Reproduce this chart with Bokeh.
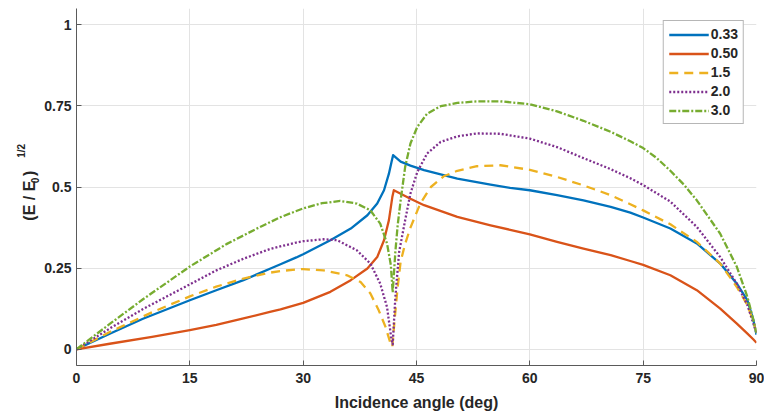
import math
from bokeh.plotting import figure
from bokeh.layouts import row, column
from bokeh.models import FixedTicker, Range1d, Legend, LegendItem
from bokeh.core.properties import value
from bokeh.embed import file_html
from bokeh.resources import INLINE

# ---------------- data ----------------
x_033 = [0, 4.4, 8.8, 15, 18.5, 22.1, 25.6, 27, 29.1, 30, 33.6, 36.3, 38.5, 39.8, 40.7,
         41.35, 41.7, 41.9, 42.9, 44.2, 46.0, 50.4, 54.8, 57.4, 60, 63.6, 67.1, 70.7,
         73.3, 75, 78.6, 82.1, 85.2, 87.4, 88.8, 89.6, 90]
y_033 = [0, 0.048, 0.094, 0.151, 0.182, 0.213, 0.248, 0.262, 0.283, 0.293, 0.336, 0.372,
         0.413, 0.449, 0.49, 0.541, 0.578, 0.598, 0.578, 0.566, 0.552, 0.526, 0.507, 0.497,
         0.49, 0.475, 0.459, 0.439, 0.421, 0.406, 0.372, 0.326, 0.264, 0.202, 0.151,
         0.089, 0.045]

x_050 = [0, 4.4, 10, 15, 18.5, 22.1, 25.6, 27, 30, 33.6, 36.3, 38.5, 39.8, 40.7, 41.35,
         41.8, 42.0, 44.2, 46.0, 50.4, 54.8, 57.4, 60, 63.6, 67.1, 70.7, 73.3, 75, 78.6,
         82.1, 85.2, 87.4, 88.8, 89.6, 90]
y_050 = [0, 0.017, 0.038, 0.059, 0.075, 0.095, 0.115, 0.123, 0.143, 0.177, 0.213, 0.249,
         0.284, 0.336, 0.398, 0.469, 0.49, 0.464, 0.444, 0.408, 0.382, 0.368, 0.354,
         0.331, 0.31, 0.29, 0.272, 0.26, 0.228, 0.182, 0.125, 0.079, 0.048, 0.03, 0.02]

x_15 = [0, 4.4, 10, 15, 18.5, 22.1, 25.6, 27, 29.1, 30, 32.7, 35.8, 37.6, 38.9, 40.0,
        40.9, 41.6, 41.8, 42.1, 42.5, 42.9, 43.5, 44.2, 45.5, 46.9, 48.6, 50.4, 53,
        56.1, 60, 63.6, 67.1, 70.7, 73.3, 75, 78.6, 82.1, 85.2, 87.4, 88.8, 89.6, 90]
y_15 = [0, 0.053, 0.114, 0.163, 0.193, 0.218, 0.236, 0.241, 0.246, 0.247, 0.243, 0.228,
        0.207, 0.172, 0.12, 0.069, 0.015, 0.008, 0.09, 0.19, 0.27, 0.325, 0.375, 0.449,
        0.5, 0.533, 0.55, 0.564, 0.567, 0.553, 0.531, 0.505, 0.475, 0.447, 0.428, 0.385,
        0.331, 0.264, 0.192, 0.136, 0.085, 0.05]

x_20 = [0, 4.4, 8.8, 15, 18.5, 22.1, 25.6, 29.1, 30, 32.7, 34.5, 37.1, 38.9, 40.2, 41.1,
        41.7, 41.85, 42.2, 42.7, 43.5, 44.2, 45.1, 46.4, 48.2, 50.4, 53, 56.1, 60, 63.6,
        67.1, 70.7, 73.3, 75, 78.6, 82.1, 85.2, 87.4, 88.8, 89.6, 90]
y_20 = [0, 0.064, 0.124, 0.2, 0.243, 0.279, 0.309, 0.329, 0.333, 0.339, 0.336, 0.305,
        0.264, 0.202, 0.13, 0.028, 0.015, 0.16, 0.3, 0.398, 0.48, 0.546, 0.603, 0.639,
        0.656, 0.665, 0.664, 0.649, 0.623, 0.589, 0.555, 0.527, 0.506, 0.455, 0.377,
        0.284, 0.202, 0.136, 0.078, 0.05]

x_30 = [0, 4.4, 8.8, 12, 15, 19.85, 24.3, 27, 29.1, 30, 32.5, 34.9, 37.1, 38.9, 40.2,
        41.1, 41.6, 41.85, 42.2, 42.5, 42.9, 43.5, 44.2, 45.1, 46.4, 48.2, 50.4, 53, 56.1,
        60, 63.6, 67.1, 70.7, 73.3, 75, 76.8, 78.6, 80.4, 82.1, 85.2, 87.4, 88.8, 89.6,
        90]
y_30 = [0, 0.078, 0.154, 0.206, 0.255, 0.324, 0.377, 0.407, 0.426, 0.434, 0.45, 0.457,
        0.449, 0.428, 0.387, 0.326, 0.26, 0.175, 0.3, 0.38, 0.459, 0.562, 0.634, 0.685,
        0.726, 0.749, 0.759, 0.764, 0.764, 0.755, 0.733, 0.704, 0.67, 0.641, 0.62, 0.589,
        0.55, 0.507, 0.459, 0.356, 0.254, 0.161, 0.089, 0.05]

series_names = ["0.33", "0.50", "1.5", "2.0", "3.0"]
x_ticks = [0, 15, 30, 45, 60, 75, 90]
y_ticks = [0, 0.25, 0.5, 0.75, 1]
y_tick_labels = ["0", "0.25", "0.5", "0.75", "1"]
x_title = "Incidence angle (deg)"

# ---------------- layout constants ----------------
FONT = "Liberation Sans"
TXT = "#262626"
W_TOTAL, H_TOTAL = 764, 411
W_LAB = 40     # strip on the left carrying the y-axis title
H_XLAB = 19    # strip at the bottom carrying the x-axis title
H_MAIN = H_TOTAL - H_XLAB

# ---------------- main figure ----------------
p = figure(width=W_TOTAL - W_LAB, height=H_MAIN, output_backend="svg",
           toolbar_location=None,
           x_range=Range1d(0, 90), y_range=Range1d(-0.05, 1.05),
           min_border_left=76 - W_LAB, min_border_right=8, min_border_top=8,
           min_border_bottom=H_MAIN - 365)
p.outline_line_color = None
p.background_fill_color = "white"

for ax in (p.xaxis[0], p.yaxis[0]):
    ax.major_tick_in = 5
    ax.major_tick_out = 0
    ax.minor_tick_line_color = None
    ax.axis_line_color = "#5a5a5a"
    ax.major_tick_line_color = "#5a5a5a"
    ax.major_label_text_font = FONT
    ax.major_label_text_font_style = "bold"
    ax.major_label_text_font_size = "14px"
    ax.major_label_text_color = TXT

p.xaxis.ticker = FixedTicker(ticks=x_ticks)
p.yaxis.ticker = FixedTicker(ticks=y_ticks)
p.yaxis.major_label_overrides = {t: l for t, l in zip(y_ticks, y_tick_labels)}
p.xaxis.major_label_standoff = 7
p.yaxis.major_label_standoff = 5

p.xgrid.grid_line_color = "#e3e3e3"
p.ygrid.grid_line_color = "#e3e3e3"

styles = [
    dict(color="#0072BD", line_dash="solid"),
    dict(color="#D95319", line_dash="solid"),
    dict(color="#EDB120", line_dash="9 6"),
    dict(color="#7E2F8E", line_dash="2 2"),
    dict(color="#77AC30", line_dash="7 2 2 2"),
]
xs = [x_033, x_050, x_15, x_20, x_30]
ys = [y_033, y_050, y_15, y_20, y_30]

items = []
for name, xx, yy, st in zip(series_names, xs, ys, styles):
    r = p.line(xx, yy, line_color=st["color"], line_width=2.3, line_dash=st["line_dash"],
               line_join="round")
    items.append(LegendItem(label=name, renderers=[r]))

legend = Legend(items=items, location="top_right", margin=12, padding=5, spacing=3,
                glyph_width=40, glyph_height=15, label_height=15, label_standoff=2,
                label_text_font=FONT, label_text_font_style="bold",
                label_text_font_size="14px", label_text_color=TXT,
                border_line_color="#6e6e6e", border_line_width=1,
                background_fill_alpha=1.0)
p.add_layout(legend)

# ---------------- y-axis title strip: (E / E_0) ^{1/2} ----------------
lab = figure(width=W_LAB, height=H_MAIN, output_backend="svg", toolbar_location=None,
             x_range=Range1d(0, W_LAB), y_range=Range1d(0, H_MAIN),
             min_border=0, x_axis_type=None, y_axis_type=None, title=None)
lab.outline_line_color = None
lab.grid.visible = False

def vtext(xpix, ytop_pix, txt, size):
    # vertical text (reads bottom to top); baseline at xpix; starts at ytop_pix from the top
    lab.text(x=[xpix], y=[H_MAIN - ytop_pix], text=[txt], angle=math.pi / 2,
             text_font=value(FONT), text_font_style="bold", text_color=TXT,
             text_font_size=value(size), text_align="left", text_baseline="alphabetic")

vtext(29.3, 233, "(E / E", "16px")
vtext(34.5, 192, "0", "10px")
vtext(29.3, 184, ")", "16px")
vtext(20.5, 164, "1/2", "10px")

# ---------------- x-axis title strip ----------------
xl = figure(width=W_TOTAL, height=H_XLAB, output_backend="svg", toolbar_location=None,
            x_range=Range1d(0, W_TOTAL), y_range=Range1d(0, H_XLAB),
            min_border=0, x_axis_type=None, y_axis_type=None, title=None)
xl.outline_line_color = None
xl.grid.visible = False
xl.text(x=[416], y=[H_TOTAL - 402], text=[x_title], text_font=value(FONT),
        text_font_style="bold", text_color=TXT, text_font_size=value("16px"),
        text_align="center", text_baseline="middle")

layout = column(row(lab, p, spacing=0), xl, spacing=0)
open("out.html", "w").write(file_html(layout, INLINE))
